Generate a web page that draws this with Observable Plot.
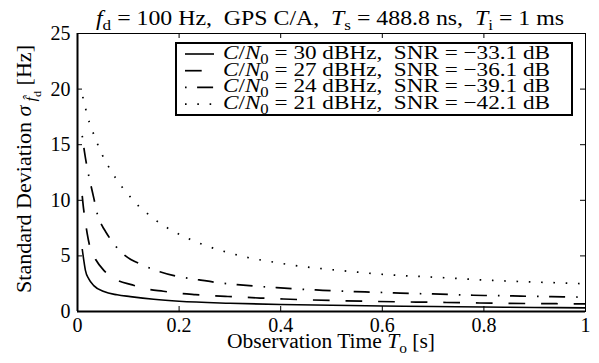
<!DOCTYPE html>
<html><head><meta charset="utf-8">
<script src="https://cdn.jsdelivr.net/npm/d3@7"></script>
<script src="https://cdn.jsdelivr.net/npm/@observablehq/plot@0.6"></script>
<style>html,body{margin:0;padding:0;background:#fff;} svg{display:block} svg text{font-family:"Liberation Serif","Times New Roman",Times,serif;}</style>
</head><body><div id="chart"></div>
<script>
// ---- data ----
const xTicks = [0, 0.2, 0.4, 0.6, 0.8, 1];
const xTickLabels = ["0", "0.2", "0.4", "0.6", "0.8", "1"];
const yTicks = [0, 5, 10, 15, 20, 25];
const yTickLabels = ["0", "5", "10", "15", "20", "25"];

const cn0 = [30, 27, 24, 21];
const snr = [-33.1, -36.1, -39.1, -42.1];

// C/N0 = 30 dBHz (solid)
const t30 = [0.0093,0.0125,0.0157,0.0222,0.032,0.052,0.078,0.104,0.15,0.2,0.3,0.4,0.5,0.6,0.7,0.8,0.9,1.0];
const s30 = [5.62,4.57,3.67,2.93,2.33,1.79,1.50,1.34,1.10,0.92,0.74,0.63,0.56,0.50,0.45,0.40,0.36,0.33];
// C/N0 = 27 dBHz (dashed)
const t27 = [0.0093,0.0118,0.0157,0.0191,0.0256,0.0354,0.0518,0.0748,0.108,0.136,0.169,0.199,0.232,0.263,0.296,0.327,0.360,0.392,0.438,0.502,0.568,0.634,0.695,0.752,0.817,0.880,0.943,1.0];
const s27 = [10.4,9.3,8.0,7.0,5.6,4.7,3.7,2.9,2.39,2.03,1.82,1.64,1.52,1.43,1.35,1.28,1.21,1.15,1.07,0.99,0.92,0.87,0.83,0.79,0.75,0.72,0.70,0.68];
// C/N0 = 24 dBHz (dash-dot)
const t24 = [0.0093,0.0136,0.0191,0.0256,0.0321,0.0388,0.0486,0.0551,0.0728,0.0945,0.127,0.162,0.199,0.237,0.276,0.314,0.352,0.392,0.429,0.469,0.508,0.546,0.585,0.623,0.662,0.699,0.740,0.779,0.817,0.856,0.895,0.933,0.972,1.0];
const s24 = [15.8,14.4,12.9,11.5,10.2,8.8,7.7,7.2,6.0,5.0,4.2,3.58,3.13,2.87,2.60,2.42,2.27,2.15,2.03,1.94,1.85,1.79,1.73,1.67,1.61,1.58,1.52,1.46,1.43,1.40,1.36,1.34,1.31,1.29];
// C/N0 = 21 dBHz (dotted)
const t21 = [0.0104,0.0152,0.0197,0.0262,0.0329,0.040,0.0486,0.0577,0.0683,0.0793,0.0911,0.106,0.120,0.136,0.153,0.171,0.191,0.212,0.233,0.255,0.277,0.300,0.322,0.346,0.369,0.393,0.440,0.488,0.535,0.584,0.631,0.679,0.728,0.776,0.823,0.872,0.920,0.968,1.0];
const s21 = [19.3,18.4,17.5,16.7,15.8,15.0,14.1,13.3,12.5,11.7,11.0,10.2,9.5,8.87,8.24,7.68,7.17,6.69,6.27,5.89,5.56,5.26,4.99,4.75,4.57,4.39,4.06,3.82,3.61,3.40,3.25,3.14,3.02,2.89,2.78,2.69,2.62,2.54,2.50];

// ---- styles ----
const FONT = "'Liberation Serif','Times New Roman',Times,serif";
const W = 599, H = 363, ML = 77, MR = 14, MT = 33, MB = 52;
const FW = W - ML - MR, FH = H - MT - MB, TICK = 5;
const dashes = [null, "16.7,15.9", "1.6,10.5,16,11", "1.6,10.7"];
const widths = [1.6, 1.7, 1.7, 1.7];

const series = [[t30, s30], [t27, s27], [t24, s24], [t21, s21]].map(([t, s]) => t.map((d, i) => ({t: d, v: s[i]})));

const lineMarks = series.map((rows, k) => Plot.line(rows, {
  x: "t", y: "v", stroke: "black", strokeWidth: widths[k],
  strokeDasharray: dashes[k] || undefined, strokeLinecap: "butt", curve: "monotone-x"
}));

const chart = Plot.plot({
  width: W, height: H, marginLeft: ML, marginRight: MR, marginTop: MT, marginBottom: MB,
  style: {fontFamily: FONT, fontSize: "20px", background: "white", color: "black"},
  x: {domain: [0, 1], axis: null},
  y: {domain: [0, 25], axis: null},
  marks: [
    ...lineMarks,
    Plot.axisX(xTicks, {tickSize: 0, tickPadding: 6, label: null, fontSize: 20, fontFamily: FONT,
      tickFormat: d => xTickLabels[xTicks.indexOf(d)]}),
    Plot.axisY(yTicks, {tickSize: 0, tickPadding: 7, label: null, fontSize: 20, fontFamily: FONT,
      tickFormat: d => yTickLabels[yTicks.indexOf(d)]}),
    Plot.tickX(xTicks, {x: d => d, insetTop: FH - TICK, stroke: "black"}),
    Plot.tickX(xTicks, {x: d => d, insetBottom: FH - TICK, stroke: "black"}),
    Plot.tickY(yTicks, {y: d => d, insetRight: FW - TICK, stroke: "black"}),
    Plot.tickY(yTicks, {y: d => d, insetLeft: FW - TICK, stroke: "black"}),
    Plot.frame({stroke: "black", strokeWidth: 1}),
    Plot.ruleX([0], {stroke: "black", strokeWidth: 2}),
    Plot.ruleY([0], {stroke: "black", strokeWidth: 2})
  ]
});
document.getElementById("chart").appendChild(chart);

// ---- rich text helper ----
const svg = d3.select(chart);
function rich(g, x, y, parts, {size = 20, anchor = "middle", length = null, rotate = false} = {}) {
  const t = g.append("text").attr("x", x).attr("y", y).attr("text-anchor", anchor)
    .attr("font-size", size).attr("font-family", FONT).attr("fill", "black")
    .style("white-space", "pre");
  if (rotate) t.attr("transform", `rotate(-90 ${x} ${y})`);
  let shift = 0;
  for (const p of parts) {
    const s = t.append("tspan").text(p.t);
    const target = p.sub === 2 ? size * 0.5 : p.sub === 1 ? size * 0.26 : 0;
    if (target !== shift) s.attr("dy", target - shift);
    shift = target;
    if (p.i) s.attr("font-style", "italic");
    if (p.sub) s.attr("font-size", size * (p.sub === 2 ? 0.55 : 0.72));
  }
  if (length) t.attr("textLength", length).attr("lengthAdjust", "spacingAndGlyphs");
  return t;
}

// title
rich(svg, 330, 25, [
  {t: "f", i: true}, {t: "d", sub: 1}, {t: " = 100 Hz,  GPS C/A,  "},
  {t: "T", i: true}, {t: "s", sub: 1}, {t: " = 488.8 ns,  "},
  {t: "T", i: true}, {t: "i", sub: 1}, {t: " = 1 ms"}
], {length: 468});

// x label
rich(svg, 331, 348, [{t: "Observation Time "}, {t: "T", i: true}, {t: "o", sub: 1}, {t: " [s]"}], {length: 208});

// y label
rich(svg, 31, 169, [{t: "Standard Deviation "}, {t: "σ", i: true}, {t: " f\u0302", i: true, sub: 1}, {t: "d", sub: 2}, {t: " [Hz]"}], {rotate: true, length: 248});

// legend
const lg = svg.append("g");
lg.append("rect").attr("x", 176).attr("y", 43).attr("width", 396).attr("height", 72)
  .attr("fill", "white").attr("stroke", "black").attr("stroke-width", 2);
cn0.forEach((c, k) => {
  const yy = 54 + k * 16.7;
  const ln = lg.append("line").attr("x1", 185).attr("x2", 214).attr("y1", yy).attr("y2", yy)
    .attr("stroke", "black").attr("stroke-width", widths[k]);
  if (dashes[k]) ln.attr("stroke-dasharray", dashes[k]);
  rich(lg, 223, yy + 5, [
    {t: "C", i: true}, {t: "/"}, {t: "N", i: true}, {t: "0", sub: 1},
    {t: ` = ${c} dBHz,  SNR = \u2212${Math.abs(snr[k]).toFixed(1)} dB`}
  ], {size: 19, anchor: "start", length: 327});
});
</script></body></html>
